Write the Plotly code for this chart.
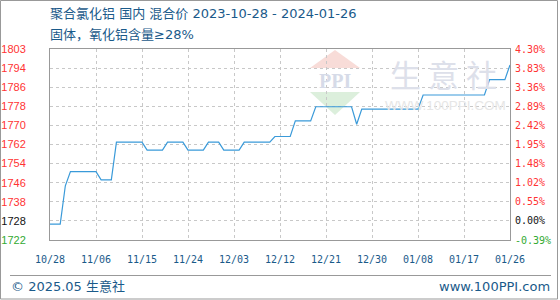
import plotly.graph_objects as go
import pandas as pd

# ---- data ----
start_date = "2023-10-28"
end_date = "2024-01-26"
dates = pd.date_range(start_date, end_date, freq="D").strftime("%Y-%m-%d").tolist()

prices = (
    [1728.0] * 3
    + [1744.3]
    + [1750.3] * 6
    + [1746.8] * 3
    + [1762.8] * 6
    + [1759.4] * 4
    + [1762.8] * 4
    + [1759.4] * 4
    + [1762.8] * 3
    + [1759.4] * 4
    + [1762.8] * 6
    + [1765.2] * 4
    + [1771.8] * 4
    + [1777.8] * 8
    + [1770.4]
    + [1776.8] * 12
    + [1782.8] * 13
    + [1789.3] * 4
    + [1795.5]
)

y_min, y_max = 1721.3, 1802.3
left_labels = ["1722", "1728", "1738", "1746", "1754", "1762", "1770", "1778", "1786", "1794", "1803"]
right_labels = ["-0.39%", "0.00%", "0.55%", "1.02%", "1.48%", "1.95%", "2.42%", "2.89%", "3.36%", "3.83%", "4.30%"]
x_tick_dates = ["2023-10-28", "2023-11-06", "2023-11-15", "2023-11-24", "2023-12-03", "2023-12-12",
                "2023-12-21", "2023-12-30", "2024-01-08", "2024-01-17", "2024-01-26"]
x_tick_labels = ["10/28", "11/06", "11/15", "11/24", "12/03", "12/12", "12/21", "12/30", "01/08", "01/17", "01/26"]

title1 = "聚合氯化铝 国内 混合价 2023-10-28 - 2024-01-26"
title2 = "固体，氧化铝含量≥28%"
footer_left = "© 2025.05 生意社"
footer_right = "www.100PPI.com"

# ---- style ----
W, H = 560, 300
ML, MR, MT, MB = 50, 50, 49, 60
PW, PH = W - ML - MR, H - MT - MB
RED, GREEN, BLACK = "#ff3333", "#33aa33", "#111111"
BLUE_TXT = "#1a5a8a"
LINE = "#3a9ad9"


def px(xp):
    return (xp - ML) / PW


def py(yp):
    return (MT + PH - yp) / PH


def colored(labels):
    out = []
    for i, t in enumerate(labels):
        c = GREEN if i == 0 else (BLACK if i == 1 else RED)
        out.append(f'<span style="color:{c}">{t}</span>')
    return out


step = (y_max - y_min) / 10
tickvals = [y_min + k * step for k in range(11)]

fig = go.Figure()
fig.add_trace(go.Scatter(x=dates, y=prices, mode="lines",
                         line=dict(color=LINE, width=1.2), hoverinfo="skip"))
fig.add_trace(go.Scatter(x=dates, y=prices, mode="lines", yaxis="y2",
                         line=dict(color=LINE, width=0), opacity=0, hoverinfo="skip"))

shapes = []
# watermark logo
shapes.append(dict(type="path", xref="paper", yref="paper", layer="below",
                   path=f"M {px(310)} {py(68)} L {px(335)} {py(50)} L {px(360)} {py(68)} Z",
                   fillcolor="#f8dcd8", line=dict(width=0)))
shapes.append(dict(type="path", xref="paper", yref="paper", layer="below",
                   path=f"M {px(310)} {py(92)} L {px(335)} {py(115)} L {px(360)} {py(92)} Z",
                   fillcolor="#dcefdc", line=dict(width=0)))
# outer frame
shapes.append(dict(type="rect", xref="paper", yref="paper",
                   x0=px(0.5), x1=px(557.5), y0=py(299), y1=py(0.5),
                   line=dict(color="#999999", width=1)))
# footer separator
shapes.append(dict(type="line", xref="paper", yref="paper",
                   x0=px(10), x1=px(551), y0=py(275.5), y1=py(275.5),
                   line=dict(color="#999999", width=1)))

annotations = [
    dict(text="生 意 社", x=px(443), y=py(73), xref="paper", yref="paper", showarrow=False,
         font=dict(size=31, color="#dde0ea", family="Noto Sans CJK SC"), xanchor="center", yanchor="middle"),
    dict(text="WWW.100PPI.COM", x=px(445), y=py(105), xref="paper", yref="paper", showarrow=False,
         font=dict(size=13.5, color="#e6e6e6", family="Liberation Sans"), xanchor="center", yanchor="middle"),
    dict(text="<b>PPI</b>", x=px(335), y=py(81), xref="paper", yref="paper", showarrow=False,
         font=dict(size=20, color="#d6dbe8", family="Liberation Serif"), xanchor="center", yanchor="middle"),
    dict(text=title1, x=px(48), y=py(14), xref="paper", yref="paper", showarrow=False,
         font=dict(size=13, color=BLUE_TXT, family="DejaVu Sans, Noto Sans CJK SC"), xanchor="left", yanchor="middle"),
    dict(text=title2, x=px(48), y=py(34), xref="paper", yref="paper", showarrow=False,
         font=dict(size=13, color=BLUE_TXT, family="DejaVu Sans, Noto Sans CJK SC"), xanchor="left", yanchor="middle"),
    dict(text=footer_left, x=px(9), y=py(286), xref="paper", yref="paper", showarrow=False,
         font=dict(size=13, color=BLUE_TXT, family="DejaVu Sans, Noto Sans CJK SC"), xanchor="left", yanchor="middle"),
    dict(text=footer_right, x=px(552), y=py(286), xref="paper", yref="paper", showarrow=False,
         font=dict(size=13, color=BLUE_TXT, family="DejaVu Sans"), xanchor="right", yanchor="middle"),
]

grid = dict(showgrid=True, gridcolor="#c8c8c8", gridwidth=1, griddash="3px,3px")

fig.update_layout(
    width=W, height=H, autosize=False,
    margin=dict(l=ML, r=MR, t=MT, b=MB, autoexpand=False),
    paper_bgcolor="white", plot_bgcolor="white",
    showlegend=False,
    shapes=shapes, annotations=annotations,
    xaxis=dict(type="date", range=[start_date, end_date], tickmode="array",
               tickvals=x_tick_dates, ticktext=x_tick_labels,
               tickfont=dict(family="DejaVu Sans Mono", size=10, color=BLUE_TXT),
               ticks="", ticklabelstandoff=10, automargin=False,
               showline=True, linecolor="#999999", linewidth=1, mirror=True,
               zeroline=False, fixedrange=True, **grid),
    yaxis=dict(range=[y_min, y_max], tickmode="array", tickvals=tickvals,
               ticktext=colored(left_labels),
               tickfont=dict(family="Liberation Sans", size=11),
               ticks="", ticklabelstandoff=21, automargin=False,
               showline=True, linecolor="#999999", linewidth=1, mirror=True,
               zeroline=False, fixedrange=True, **grid),
    yaxis2=dict(range=[y_min, y_max], overlaying="y", side="right", tickmode="array",
                tickvals=tickvals, ticktext=colored(right_labels),
                tickfont=dict(family="DejaVu Sans Mono", size=10),
                ticks="", ticklabelstandoff=4, showgrid=False, automargin=False,
                showline=False, zeroline=False, fixedrange=True),
)

fig.write_html("out.html", config={"displayModeBar": False})
